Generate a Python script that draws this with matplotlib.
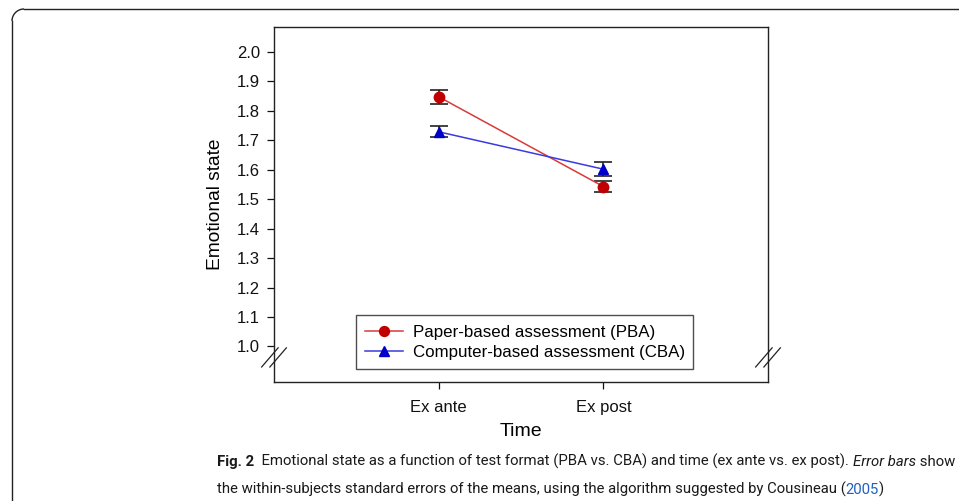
import numpy as np
import matplotlib
matplotlib.use('Agg')
import matplotlib.pyplot as plt
from matplotlib.lines import Line2D
from matplotlib.patches import Arc

# Data
times = ['Ex ante', 'Ex post']
pba_mean = [1.848, 1.543]
pba_se = [0.023, 0.020]
cba_mean = [1.729, 1.602]
cba_se = [0.018, 0.023]
yticks = [1.0, 1.1, 1.2, 1.3, 1.4, 1.5, 1.6, 1.7, 1.8, 1.9, 2.0]

W, H = 959, 501
plt.rcParams['font.family'] = ['Liberation Sans', 'DejaVu Sans']

fig = plt.figure(figsize=(W / 100, H / 100), dpi=100)
ax = fig.add_axes([274 / W, 1 - 381.7 / H, 494 / W, 354.7 / H])

x = np.arange(1, len(times) + 1)
ax.errorbar(x, pba_mean, yerr=pba_se, fmt='none', ecolor='#222222',
            elinewidth=1.2, capsize=6.5, capthick=1.2, zorder=2)
ax.errorbar(x, cba_mean, yerr=cba_se, fmt='none', ecolor='#222222',
            elinewidth=1.2, capsize=6.5, capthick=1.2, zorder=2)
ax.plot(x, pba_mean, color='#d93a3a', lw=1.1, marker='o', ms=7.5,
        mfc='#c00000', mec='#c00000', label='Paper-based assessment (PBA)', zorder=3)
ax.plot(x, cba_mean, color='#3a3ae0', lw=1.1, marker='^', ms=7.5,
        mfc='#0000c8', mec='#0000c8', label='Computer-based assessment (CBA)', zorder=3)

ax.set_xlim(0, 3)
ax.set_ylim(0.88, 2.085)
ax.set_xticks(x)
ax.set_xticklabels(times)
ax.set_yticks(yticks)
ax.set_yticklabels(['%.1f' % v for v in yticks])
ax.tick_params(axis='both', direction='out', length=5, width=0.9,
               labelsize=12, colors='#111111')
ax.tick_params(axis='y', pad=5)
ax.tick_params(axis='x', pad=8)
for s in ax.spines.values():
    s.set_linewidth(1.0)
    s.set_color('#222222')

ax.set_xlabel('Time', fontsize=14, labelpad=6)
ax.set_ylabel('Emotional state', fontsize=13.8, labelpad=9)

# axis break marks
for xs in (0, 3):
    for off in (-0.025, 0.025):
        ax.add_line(Line2D([xs + off - 0.05, xs + off + 0.05], [0.93, 0.995],
                           color='#222222', lw=0.9, clip_on=False))

leg = ax.legend(loc='lower left', bbox_to_anchor=(0.166, 0.036, 0.682, 0.17),
                mode='expand', fontsize=12.2, frameon=True, fancybox=False,
                edgecolor='#222222', handlelength=2.2, borderaxespad=0,
                labelspacing=0.3, handletextpad=0.6, borderpad=0.55,
                markerscale=0.95)
leg.get_frame().set_linewidth(1.0)

# page frame with rounded corner
r = 12
fig.add_artist(Line2D([12 / W, 12 / W], [0, 1 - (9 + r) / H], color='#222222',
                      lw=1.0, transform=fig.transFigure))
fig.add_artist(Line2D([(12 + r) / W, 1], [1 - 9 / H, 1 - 9 / H], color='#222222',
                      lw=1.0, transform=fig.transFigure))
fig.add_artist(Arc(((12 + r) / W, 1 - (9 + r) / H), 2 * r / W, 2 * r / H,
                   theta1=90, theta2=180, color='#222222', lw=1.0,
                   transform=fig.transFigure))

# caption
cap_font = ['Roboto', 'DejaVu Sans']
fig.canvas.draw()
rend = fig.canvas.get_renderer()

line1 = [
    ('Fig. 2', dict(fontweight='bold')),
    ('  Emotional state as a function of test format (PBA vs. CBA) and time (ex ante vs. ex post). ', {}),
    ('Error bars', dict(style='italic')),
    (' show', {}),
]
line2 = [
    ('the within-subjects standard errors of the means, using the algorithm suggested by Cousineau (', {}),
    ('2005', dict(color='#1f5fbf')),
    (')', {}),
]


def put_runs(x_px, y_px, runs, size, draw=True):
    x0 = x_px
    for s, kw in runs:
        opts = dict(va='baseline', ha='left', fontsize=size, family=cap_font,
                    color='#1a1a1a')
        opts.update(kw)
        t = fig.text(x_px / W, 1 - y_px / H, s, **opts)
        x_px += t.get_window_extent(rend).width
        if not draw:
            t.remove()
    return x_px - x0


# fit the first caption line to the width used in the original
w10 = put_runs(0, 0, line1, 10, draw=False)
size = 10 * (956 - 217) / w10

put_runs(217, 466, line1, size)
put_runs(217, 494, line2, size)

fig.savefig('out.png', dpi=100)
